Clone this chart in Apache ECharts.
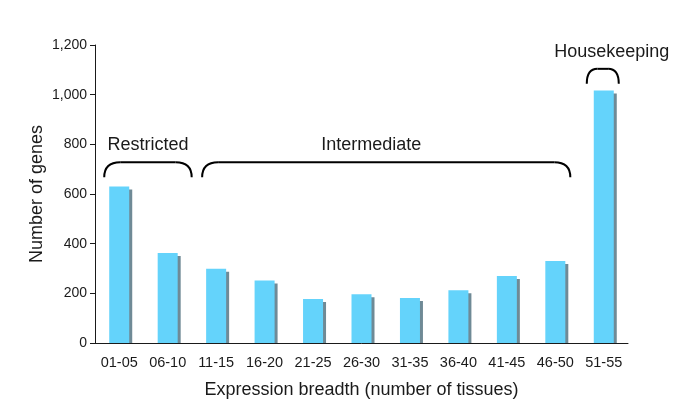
<!DOCTYPE html>
<html>
<head>
<meta charset="utf-8">
<script src="https://cdn.jsdelivr.net/npm/echarts@6/dist/echarts.min.js"></script>
<style>
  html, body { margin: 0; padding: 0; background: #fff; }
  #chart { width: 685px; height: 414px; }
</style>
</head>
<body>
<div id="chart"></div>
<script>
// expression breadth bins (number of tissues)
const categories = ['01-05', '06-10', '11-15', '16-20', '21-25', '26-30', '31-35', '36-40', '41-45', '46-50', '51-55']
// number of genes per bin
const geneCounts = [630, 362, 299, 252, 177, 196, 181, 212, 270, 330, 1017]
const yMin = 0
const yMax = 1200
const yStep = 200

// bracket annotations above the bars
const groupNames = ['Restricted', 'Intermediate', 'Housekeeping']
const groupFirst = ['01-05', '11-15', '51-55']
const groupLast = ['06-10', '46-50', '51-55']

const font = 'Liberation Sans, Arial, Helvetica, sans-serif'
const ink = '#1a1a1a'

const chart = echarts.init(document.getElementById('chart'))

chart.setOption({
  animation: false,
  grid: { left: 95, right: 57, top: 45, bottom: 71 },
  xAxis: {
    type: 'category',
    z: 10,
    data: categories,
    boundaryGap: true,
    name: 'Expression breadth (number of tissues)',
    nameLocation: 'middle',
    nameGap: 38,
    nameTextStyle: { fontFamily: font, fontSize: 18, color: ink },
    axisLine: { lineStyle: { color: ink, width: 1 } },
    axisTick: { length: 5, lineStyle: { color: ink } },
    axisLabel: { fontFamily: font, fontSize: 14.5, color: ink, margin: 12 }
  },
  yAxis: {
    type: 'value',
    z: 10,
    min: yMin,
    max: yMax,
    interval: yStep,
    name: 'Number of genes',
    nameLocation: 'middle',
    nameGap: 49,
    nameMoveOverlap: false,
    nameTextStyle: { fontFamily: font, fontSize: 18, color: ink },
    axisLine: { show: true, lineStyle: { color: ink, width: 1 } },
    axisTick: { show: true, length: 5, lineStyle: { color: ink } },
    splitLine: { show: false },
    axisLabel: {
      fontFamily: font,
      fontSize: 14,
      color: ink,
      margin: 8,
      formatter: v => v.toLocaleString('en-US')
    }
  },
  series: [{
    type: 'bar',
    data: geneCounts,
    barWidth: 20,
    itemStyle: {
      color: '#64d3fb',
      shadowColor: '#6f8a96',
      shadowBlur: 0,
      shadowOffsetX: 3,
      shadowOffsetY: 3
    }
  }]
})

// braces: level in data units, pixel pads left/right, label shift
const braceLevel = [728, 728, 1104]
const padLeft = [15, 14, 17]
const padRight = [24, 15, 15]
const labelShift = [0, -15, 9]

function drawBraces() {
  const els = []
  // hide the part of the bar shadows that drops below the x axis
  const y0 = chart.convertToPixel({ yAxisIndex: 0 }, yMin)
  els.push({
    type: 'rect',
    z: 5,
    shape: { x: 96, y: y0 + 0.5, width: 540, height: 5 },
    style: { fill: '#fff' }
  })
  groupNames.forEach((name, i) => {
    const x1 = chart.convertToPixel({ xAxisIndex: 0 }, groupFirst[i]) - padLeft[i]
    const x2 = chart.convertToPixel({ xAxisIndex: 0 }, groupLast[i]) + padRight[i]
    const yT = chart.convertToPixel({ yAxisIndex: 0 }, braceLevel[i])
    const yE = yT + 15
    const r = Math.min(16, (x2 - x1) / 3)
    const style = { stroke: '#000', lineWidth: 2, fill: null }
    els.push({ type: 'bezierCurve', shape: { x1: x1, y1: yE, x2: x1 + r, y2: yT, cpx1: x1, cpy1: yT }, style: style })
    els.push({ type: 'line', shape: { x1: x1 + r, y1: yT, x2: x2 - r, y2: yT }, style: style })
    els.push({ type: 'bezierCurve', shape: { x1: x2 - r, y1: yT, x2: x2, y2: yE, cpx1: x2, cpy1: yT }, style: style })
    els.push({
      type: 'text',
      x: (x1 + x2) / 2 + labelShift[i],
      y: yT - 17,
      style: {
        text: name,
        fontFamily: font,
        fontSize: 18,
        fill: ink,
        align: 'center',
        verticalAlign: 'middle'
      }
    })
  })
  chart.setOption({ graphic: els })
}

drawBraces()
</script>
</body>
</html>
